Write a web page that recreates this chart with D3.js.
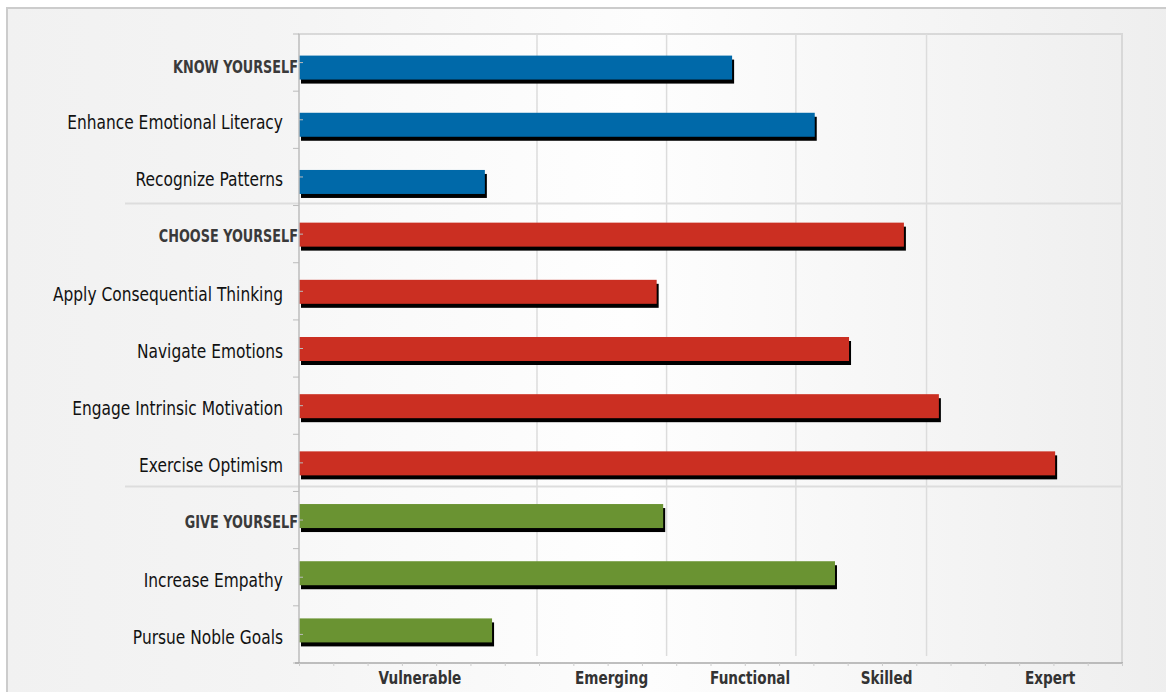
<!DOCTYPE html>
<html><head><meta charset="utf-8">
<script src="https://cdn.jsdelivr.net/npm/d3@7"></script>
<style>
html,body{margin:0;padding:0;background:#fff;}
svg{display:block;}
text{font-family:"DejaVu Sans",sans-serif;}
</style></head>
<body>
<svg id="chart" width="1166" height="692"></svg>
<script>
// ---- data ----
const categories = ["KNOW YOURSELF","Enhance Emotional Literacy","Recognize Patterns",
  "CHOOSE YOURSELF","Apply Consequential Thinking","Navigate Emotions","Engage Intrinsic Motivation","Exercise Optimism",
  "GIVE YOURSELF","Increase Empathy","Pursue Noble Goals"];
const isHeader = [true,false,false,true,false,false,false,false,true,false,false];
const groupOf = ["know","know","know","choose","choose","choose","choose","choose","give","give","give"];
const values = [12.63,15.04,5.42,17.64,10.43,16.04,18.66,22.05,10.62,15.63,5.63];
const groupNames = ["know","choose","give"];
const groupColors = ["#0069a9","#cb2f22","#6a9332"];
const groupOffsets = [5,0.5,-4]; // series slot offset within band
const levelLabels = ["Vulnerable","Emerging","Functional","Skilled","Expert"];
const levelPositions = [3.51,9.10,13.14,17.12,21.89];
const gridValues = [6.94,10.72,14.49,18.30];
const xDomain = [0,24];
const minorTicks = d3.range(0,25,1);

// ---- layout ----
const L = 299, R = 1122, T = 34, B = 663;
const sepOffsets = [-2, -5];
const svg = d3.select("#chart");
const defs = svg.append("defs");
const g1 = defs.append("linearGradient").attr("id","panelGrad").attr("x1","0").attr("x2","1").attr("y1","0").attr("y2","0");
g1.append("stop").attr("offset","0%").attr("stop-color","#f1f1f1");
g1.append("stop").attr("offset","22%").attr("stop-color","#f4f4f4");
g1.append("stop").attr("offset","55%").attr("stop-color","#fdfdfd");
g1.append("stop").attr("offset","100%").attr("stop-color","#eeeeee");
const g2 = defs.append("linearGradient").attr("id","plotGrad").attr("x1","0").attr("x2","1").attr("y1","0").attr("y2","0");
g2.append("stop").attr("offset","0%").attr("stop-color","#f8f8f8");
g2.append("stop").attr("offset","40%").attr("stop-color","#fefefe");
g2.append("stop").attr("offset","100%").attr("stop-color","#efefef");

svg.append("rect").attr("x",7).attr("y",8).attr("width",1170).attr("height",700)
  .attr("fill","url(#panelGrad)").attr("stroke","#cccccc").attr("stroke-width",2);

const x = d3.scaleLinear().domain(xDomain).range([L,R]);
const y = d3.scaleBand().domain(categories).range([T,B]).padding(0);
const barH = 24;

svg.append("rect").attr("x",L).attr("y",T).attr("width",R-L).attr("height",B-T).attr("fill","url(#plotGrad)");
svg.append("line").attr("x1",L-1).attr("x2",R+1).attr("y1",T).attr("y2",T).attr("stroke","#cfcfcf").attr("stroke-width",1.5);
svg.append("line").attr("x1",R).attr("x2",R).attr("y1",T).attr("y2",B).attr("stroke","#d8d8d8").attr("stroke-width",2);

// gridlines
svg.append("g").selectAll("line").data(gridValues).join("line")
  .attr("x1",d=>x(d)).attr("x2",d=>x(d)).attr("y1",T).attr("y2",656)
  .attr("stroke","#dcdcdc").attr("stroke-width",1.5);

// group separators
const sepAfter = categories.filter((c,i)=>i>0 && isHeader[i]);
svg.append("g").selectAll("line").data(sepAfter).join("line")
  .attr("x1",125).attr("x2",R).attr("y1",(d,i)=>y(d)+sepOffsets[i]).attr("y2",(d,i)=>y(d)+sepOffsets[i])
  .attr("stroke","#dddddd").attr("stroke-width",2);

// bars
const rows = categories.map((c,i)=>({c, v:values[i], gi:groupNames.indexOf(groupOf[i])}));
const barY = d => y(d.c) + y.bandwidth()/2 + groupOffsets[d.gi] - barH/2;
svg.append("g").selectAll("rect").data(rows).join("rect")
  .attr("x",x(0)+2).attr("y",d=>barY(d)+4).attr("width",d=>x(d.v)-x(0)).attr("height",barH).attr("fill","#000");
svg.append("g").selectAll("rect").data(rows).join("rect")
  .attr("x",x(0)).attr("y",barY).attr("width",d=>x(d.v)-x(0)).attr("height",barH)
  .attr("fill",d=>groupColors[d.gi]);

// y axis line + ticks
svg.append("line").attr("x1",L).attr("x2",L).attr("y1",T).attr("y2",B).attr("stroke","#bdbdbd").attr("stroke-width",1.5);
const bounds = categories.map(c=>y(c)).concat([B]);
svg.append("g").selectAll("line").data(bounds).join("line")
  .attr("x1",L-6).attr("x2",L).attr("y1",d=>d).attr("y2",d=>d).attr("stroke","#bbbbbb").attr("stroke-width",1);
svg.append("g").selectAll("line").data(categories).join("line")
  .attr("x1",L).attr("x2",L+4).attr("y1",d=>y(d)+y.bandwidth()/2).attr("y2",d=>y(d)+y.bandwidth()/2)
  .attr("stroke","#bbbbbb").attr("stroke-width",1);

// condense helper: horizontal squeeze so the font reads like the narrow face of the original
function condense(sel, k){
  sel.each(function(){
    const t = d3.select(this);
    const ax = +t.attr("x"), ay = +t.attr("y");
    t.attr("x",0).attr("y",0).attr("transform",`translate(${ax},${ay}) scale(${k},1)`);
  });
}
function fitFactor(sample, size, weight, target){
  const t = svg.append("text").attr("font-size",size).attr("font-weight",weight).text(sample);
  const w = t.node().getComputedTextLength(); t.remove();
  return target / w;
}

// y labels
const kNorm = fitFactor("Enhance Emotional Literacy", 20, "normal", 216);
const kHead = fitFactor("KNOW YOURSELF", 17, "bold", 125);
const ylab = svg.append("g").selectAll("text").data(categories).join("text")
  .attr("x",(d,i)=>isHeader[i]?298:283)
  .attr("y",(d,i)=>y(d)+y.bandwidth()/2 + (isHeader[i]? (i===0?4.5:2):2))
  .attr("dominant-baseline","central")
  .attr("text-anchor","end")
  .attr("font-size",(d,i)=>isHeader[i]?17:20)
  .attr("font-weight",(d,i)=>isHeader[i]?"bold":"normal")
  .attr("fill",(d,i)=>isHeader[i]?"#3a3a3a":"#111111")
  .text(d=>d);
condense(ylab.filter((d,i)=>isHeader[i]), kHead);
condense(ylab.filter((d,i)=>!isHeader[i]), kNorm);

// x axis
const xAxisMinor = d3.axisBottom(x).tickValues(minorTicks).tickSize(3).tickFormat("");
const gx = svg.append("g").attr("transform",`translate(0,${B})`).call(xAxisMinor);
gx.select(".domain").attr("stroke","#aaaaaa").attr("stroke-width",1.5).attr("d",`M${L-4},0H${R+1}`);
gx.selectAll(".tick line").attr("stroke","#cccccc");

const kAxis = fitFactor("Vulnerable", 18, "bold", 83);
const xAxisLabels = d3.axisBottom(x).tickValues(levelPositions).tickSize(0).tickPadding(0)
  .tickFormat((d,i)=>levelLabels[i]);
const gl = svg.append("g").attr("transform",`translate(0,${B})`).call(xAxisLabels);
gl.select(".domain").remove();
gl.selectAll("text").attr("dy",null).attr("x",0).attr("y",21).attr("font-size",18).attr("font-weight","bold")
  .attr("fill","#333333").attr("font-family",null);
condense(gl.selectAll("text"), kAxis);
</script>
</body></html>
